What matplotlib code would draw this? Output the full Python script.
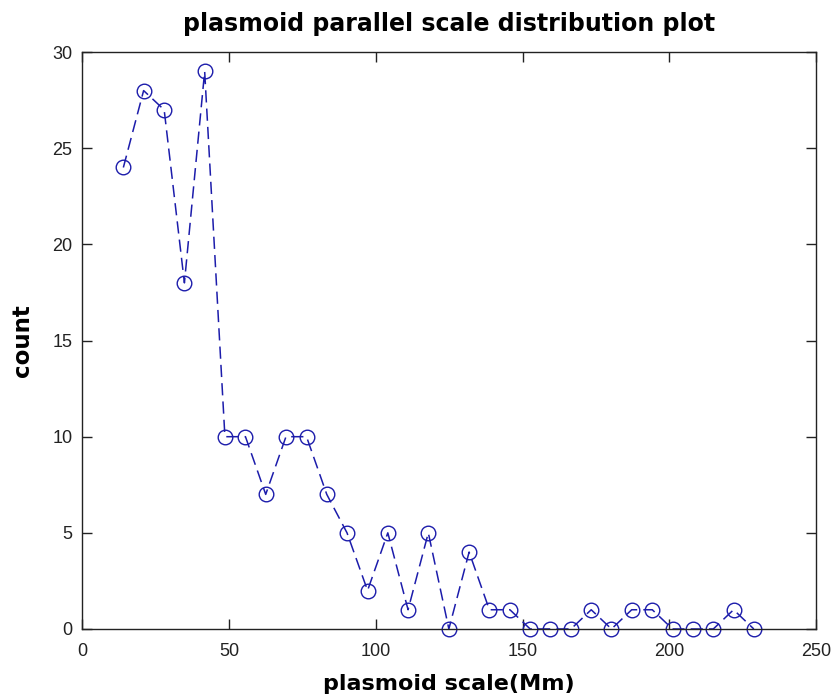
import numpy as np
import matplotlib.pyplot as plt

plt.rcParams['font.family'] = ['Liberation Sans', 'DejaVu Sans']

# bin centres (Mm) and plasmoid counts per bin
scale_mm = [14.0, 20.9, 27.9, 34.8, 41.7, 48.6, 55.6, 62.5, 69.4, 76.4,
            83.3, 90.2, 97.2, 104.1, 111.0, 117.9, 124.9, 131.8, 138.7, 145.7,
            152.6, 159.5, 166.5, 173.4, 180.3, 187.2, 194.2, 201.1, 208.0, 215.0,
            221.9, 228.8]
counts = [24, 28, 27, 18, 29, 10, 10, 7, 10, 10,
          7, 5, 2, 5, 1, 5, 0, 4, 1, 1,
          0, 0, 0, 1, 0, 1, 1, 0, 0, 0,
          1, 0]

x_ticks = [0, 50, 100, 150, 200, 250]
y_ticks = [0, 5, 10, 15, 20, 25, 30]

fig = plt.figure(figsize=(8.31, 6.95), dpi=100)
ax = fig.add_axes([0.099, 0.095, 0.883, 0.83])

ax.plot(scale_mm, counts, linestyle='--', dashes=(8, 4), color='#1c1cab',
        linewidth=1.1, marker='o', markersize=10.5, markerfacecolor='none',
        markeredgecolor='#1c1cab', markeredgewidth=1.0, clip_on=False)

ax.set_xlim(0, 250)
ax.set_ylim(0, 30)
ax.set_xticks(x_ticks)
ax.set_yticks(y_ticks)
ax.tick_params(direction='in', top=True, right=True, length=7, width=1,
               labelsize=13, colors='#222222')
ax.tick_params(axis='x', pad=10)
ax.tick_params(axis='y', pad=7)
for s in ax.spines.values():
    s.set_linewidth(1.0)
    s.set_color('#222222')

bold = dict(family='DejaVu Sans', fontweight='bold')
ax.set_title('plasmoid parallel scale distribution plot', fontsize=17,
             pad=15, **bold)
ax.set_xlabel('plasmoid scale(Mm)', fontsize=16, labelpad=10, **bold)
ax.set_ylabel('count', fontsize=16.5, labelpad=13, **bold)

fig.savefig('out.png', dpi=100)
